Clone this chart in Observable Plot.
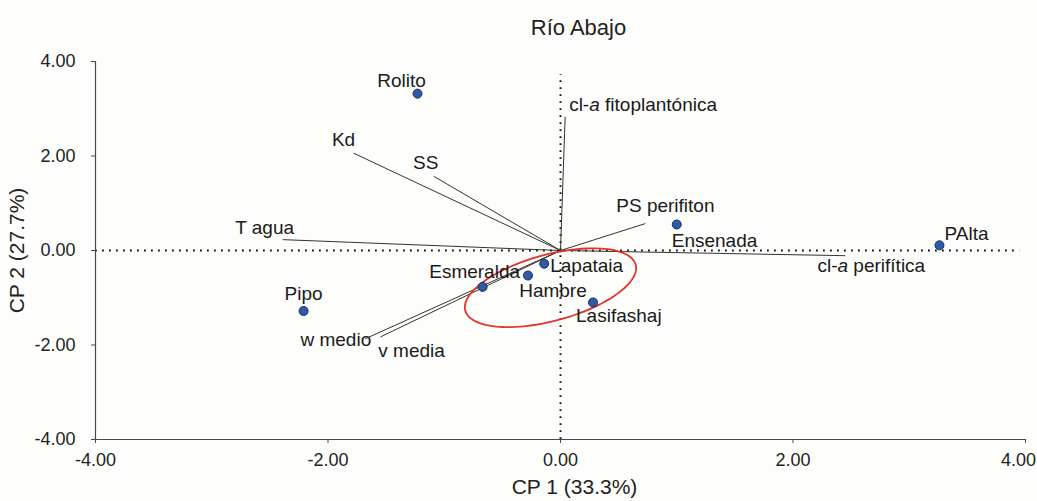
<!DOCTYPE html>
<html>
<head>
<meta charset="utf-8">
<script src="https://cdn.jsdelivr.net/npm/d3@7"></script>
<script src="https://cdn.jsdelivr.net/npm/@observablehq/plot@0.6"></script>
<style>
  html, body { margin: 0; padding: 0; background: #fdfdfb; }
  #wrap { width: 1037px; height: 501px; position: relative; font-family: "Liberation Sans", Arial, sans-serif; }
  #title { height: 44px; line-height: 56px; font-size: 22px; color: #222; text-align: center; padding-left: 120px; box-sizing: border-box; }
  svg { display: block; }
</style>
</head>
<body>
<div id="wrap">
  <div id="title">Río Abajo</div>
  <div id="chart"></div>
</div>
<script>
// Sites (scores)
const sites = ["Rolito", "Ensenada", "PAlta", "Pipo", "Esmeralda", "Hambre", "Lapataia", "Lasifashaj"];
const siteCP1 = [-1.23, 1.00, 3.26, -2.21, -0.67, -0.28, -0.14, 0.28];
const siteCP2 = [3.32, 0.55, 0.11, -1.28, -0.77, -0.53, -0.28, -1.10];

// Variables (loadings)
const variables = ["cl-a fitoplantónica", "Kd", "SS", "PS perifiton", "T agua", "cl-a perifítica", "w medio", "v media"];
const varCP1 = [0.04, -1.78, -1.09, 0.73, -2.39, 2.45, -1.68, -1.55];
const varCP2 = [2.83, 2.06, 1.57, 0.57, 0.23, -0.11, -1.87, -1.83];

// Axis ticks and titles
const ticks = [-4, -2, 0, 2, 4];
const xTitle = "CP 1 (33.3%)";
const yTitle = "CP 2 (27.7%)";

// Group ellipse: centre and two half-axis vectors (data units)
const ellipseCentre = [-0.086, -0.787];
const ellipseAxisU = [0.733, 0.485];
const ellipseAxisV = [-0.074, 0.678];

// label placement (styles)
const labelStyle = {
  "Rolito": {dx: -16, dy: -13, anchor: "middle"},
  "Ensenada": {dx: -5, dy: 16, anchor: "start"},
  "PAlta": {dx: 5, dy: -11, anchor: "start"},
  "Pipo": {dx: 0, dy: -17, anchor: "middle"},
  "Esmeralda": {dx: -8, dy: -15, anchor: "middle"},
  "Hambre": {dx: 25, dy: 15, anchor: "middle"},
  "Lapataia": {dx: 6, dy: 2, anchor: "start"},
  "Lasifashaj": {dx: -17, dy: 13, anchor: "start"},
  "cl-a fitoplantónica": {dx: 4, dy: -12, anchor: "start"},
  "Kd": {dx: -10, dy: -13, anchor: "middle"},
  "SS": {dx: -8, dy: -13, anchor: "middle"},
  "PS perifiton": {dx: 20, dy: -18, anchor: "middle"},
  "T agua": {dx: -18, dy: -12, anchor: "middle"},
  "cl-a perifítica": {dx: 26, dy: 10, anchor: "middle"},
  "w medio": {dx: 6, dy: 1, anchor: "end"},
  "v media": {dx: -2, dy: 14, anchor: "start"}
};

const siteData = sites.map((name, i) => ({name, x: siteCP1[i], y: siteCP2[i]}));
const varData = variables.map((name, i) => ({name, x: varCP1[i], y: varCP2[i]}));

const ellipsePts = d3.range(0, 361, 3).map(deg => {
  const t = deg * Math.PI / 180;
  return {
    x: ellipseCentre[0] + Math.cos(t) * ellipseAxisU[0] + Math.sin(t) * ellipseAxisV[0],
    y: ellipseCentre[1] + Math.cos(t) * ellipseAxisU[1] + Math.sin(t) * ellipseAxisV[1]
  };
});

const fmt = d => d.toFixed(2);
const labelFont = 19;

const labelMarks = [...siteData, ...varData].map(d => {
  const s = labelStyle[d.name];
  return Plot.text([d], {x: "x", y: "y", text: "name", dx: s.dx, dy: s.dy, textAnchor: s.anchor,
    fontSize: labelFont, fill: "#1a1a1a", lineAnchor: "middle"});
});

const chart = Plot.plot({
  width: 1037,
  height: 457,
  marginLeft: 95,
  marginRight: 12,
  marginTop: 17,
  marginBottom: 62,
  style: {fontFamily: "Liberation Sans, Arial, sans-serif", background: "transparent", color: "#222"},
  x: {domain: [-4, 4]},
  y: {domain: [-4, 4]},
  marks: [
    // reference dotted lines
    Plot.ruleY([0], {x1: -4, x2: 3.95, stroke: "#111", strokeWidth: 1.9, strokeDasharray: "1.8,5.2"}),
    Plot.ruleX([0], {y1: -4, y2: 3.72, stroke: "#111", strokeWidth: 1.9, strokeDasharray: "1.8,5.2"}),
    // frame axes lines
    Plot.ruleX([-4], {stroke: "#4a4a4a", strokeWidth: 1.2}),
    Plot.ruleY([-4], {stroke: "#4a4a4a", strokeWidth: 1.2}),
    Plot.axisX({ticks: ticks.slice(0, -1), tickFormat: fmt, tickSize: 4, tickPadding: 10, fontSize: 18, label: null, stroke: "#4a4a4a"}),
    Plot.axisX({ticks: ticks.slice(-1), tickFormat: fmt, tickSize: 4, tickPadding: 10, fontSize: 18, label: null, stroke: "#4a4a4a", textStroke: "none", dx: 0}),
    Plot.axisY({ticks, tickFormat: fmt, tickSize: 4, tickPadding: 16, fontSize: 18, label: null, stroke: "#4a4a4a"}),
    Plot.axisY({ticks: [], label: yTitle, labelAnchor: "center", labelOffset: 86, fontSize: 21, labelArrow: "none"}),
    Plot.text([xTitle], {frameAnchor: "bottom", dy: 48, dx: 14, fontSize: 21, fill: "#222", lineAnchor: "middle"}),
    // vectors
    Plot.link(varData, {x1: 0, y1: 0, x2: "x", y2: "y", stroke: "#333", strokeWidth: 1}),
    // ellipse
    Plot.line(ellipsePts, {x: "x", y: "y", stroke: "#e5332a", strokeWidth: 1.8, curve: "linear"}),
    // sites
    Plot.dot(siteData, {x: "x", y: "y", r: 4.5, fill: "#2f5aa8", stroke: "#1b2d57", strokeWidth: 1}),
    ...labelMarks
  ]
});

// italic "a" in "cl-a"
d3.select(chart).selectAll("text").each(function() {
  const t = this.textContent;
  if (/^cl-a /.test(t) && this.childElementCount === 0) {
    const rest = t.slice(4);
    this.textContent = "";
    const ns = "http://www.w3.org/2000/svg";
    const a = document.createElementNS(ns, "tspan"); a.textContent = "cl-";
    const b = document.createElementNS(ns, "tspan"); b.textContent = "a"; b.setAttribute("font-style", "italic");
    const c = document.createElementNS(ns, "tspan"); c.textContent = rest;
    this.append(a, b, c);
  }
});

// shift the last x tick label ("4.00") left so it stays inside the page, as in the reference
const xTickTexts = d3.select(chart).selectAll("g[aria-label='x-axis tick label']").nodes();
if (xTickTexts.length) {
  const lastGroup = xTickTexts[xTickTexts.length - 1];
  d3.select(lastGroup).selectAll("text").attr("dx", -7);
}

document.getElementById("chart").append(chart);
</script>
</body>
</html>
